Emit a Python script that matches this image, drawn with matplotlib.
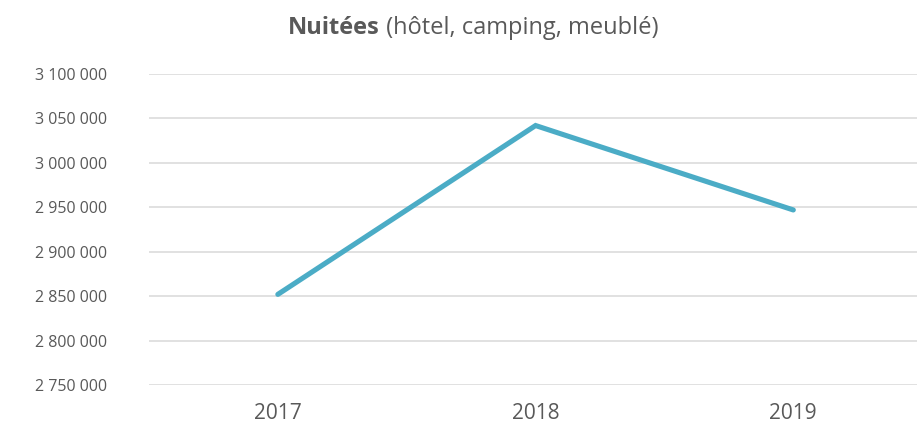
import matplotlib.pyplot as plt
from matplotlib.ticker import FuncFormatter

years = ["2017", "2018", "2019"]
nuitees = [2852000, 3042000, 2947000]
y_ticks = [2750000, 2800000, 2850000, 2900000, 2950000, 3000000, 3050000, 3100000]

grey = "#595959"
plt.rcParams["font.family"] = ["Open Sans", "DejaVu Sans"]

fig = plt.figure(figsize=(9.17, 4.24), dpi=100)
ax = fig.add_axes([149 / 917, 1 - 385 / 424, 1 - 149 / 917, (385 - 74) / 424])

ax.plot(range(len(years)), nuitees, color="#4BACC6", lw=3.7,
        solid_capstyle="round", solid_joinstyle="miter", zorder=3)

ax.set_xlim(-0.5, 2.48)
ax.set_ylim(2750000, 3100000)
ax.set_yticks(y_ticks)
ax.yaxis.set_major_formatter(FuncFormatter(lambda v, p: f"{int(v):,}".replace(",", " ")))
ax.set_xticks(range(len(years)))
ax.set_xticklabels(years)

ax.grid(axis="y", color="#D9D9D9", lw=1.1)
ax.set_axisbelow(True)
for s in ax.spines.values():
    s.set_visible(False)
ax.tick_params(axis="y", length=0, pad=30, labelsize=11.5, labelcolor=grey)
ax.tick_params(axis="x", length=0, pad=13, labelsize=15, labelcolor=grey)

# title with a bold first word
fig.canvas.draw()
r = fig.canvas.get_renderer()
t1 = fig.text(0, 1 - 28 / 424, "Nuitées", fontsize=17, fontweight="bold", color=grey, va="center")
t2 = fig.text(0, 1 - 28 / 424, " (hôtel, camping, meublé)", fontsize=17, color=grey, va="center")
w1 = t1.get_window_extent(r).width
w2 = t2.get_window_extent(r).width
x0 = 473 - (w1 + w2) / 2
t1.set_x(x0 / 917)
t2.set_x((x0 + w1) / 917)

fig.savefig("out.png", dpi=100)
